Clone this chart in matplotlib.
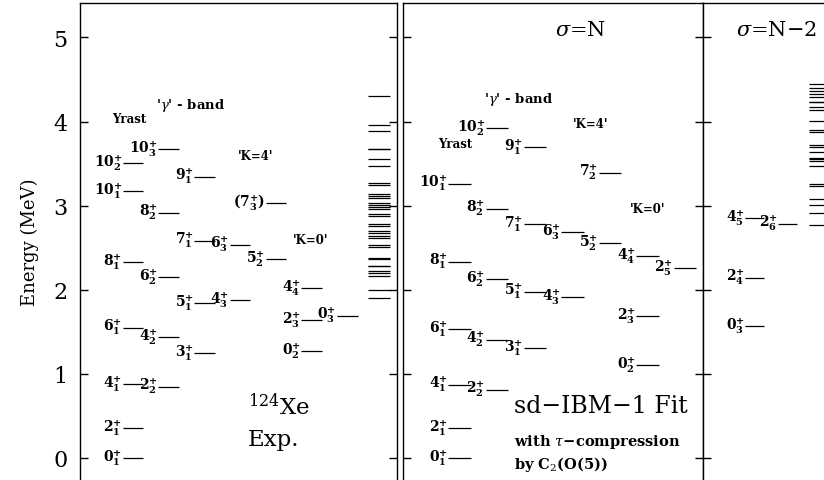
import matplotlib
matplotlib.use('Agg')
import matplotlib.pyplot as plt

plt.rcParams['font.family'] = ['DejaVu Serif', 'DejaVu Sans']
plt.rcParams['mathtext.fontset'] = 'dejavuserif'

# ---- data (MeV) ----
# experiment 124Xe : label, energy, column
exp_labels = ['0_1', '2_1', '4_1', '6_1', '8_1', '10_1', '10_2',
              '2_2', '4_2', '6_2', '8_2', '10_3',
              '3_1', '5_1', '7_1', '9_1',
              '4_3', '6_3', '(7_3)',
              '5_2',
              '0_2', '2_3', '4_4',
              '0_3']
exp_energy = [0.0, 0.354, 0.879, 1.549, 2.331, 3.171, 3.508,
              0.846, 1.437, 2.148, 2.917, 3.674,
              1.248, 1.839, 2.584, 3.345,
              1.875, 2.537, 3.032,
              2.366,
              1.272, 1.637, 2.017,
              1.692]
exp_col = [0, 0, 0, 0, 0, 0, 0,
           1, 1, 1, 1, 1,
           2, 2, 2, 2,
           3, 3, 4,
           4,
           5, 5, 5,
           6]
# other experimental levels (right stack)
exp_other = [4.305, 3.963, 3.884, 3.674, 3.668, 3.555, 3.476, 3.270, 3.246,
             3.139, 3.119, 3.092, 3.032, 3.008, 2.981, 2.961, 2.901, 2.874,
             2.782, 2.759, 2.703, 2.675, 2.643, 2.620, 2.537, 2.513, 2.378,
             2.366, 2.287, 2.280, 2.224, 2.200, 2.168, 1.998, 1.903]

# sd-IBM-1 fit, sigma = N
fit_labels = ['0_1', '2_1', '4_1', '6_1', '8_1', '10_1',
              '2_2', '4_2', '6_2', '8_2', '10_2',
              '3_1', '5_1', '7_1', '9_1',
              '4_3', '6_3',
              '5_2', '7_2',
              '0_2', '2_3', '4_4',
              '2_5']
fit_energy = [0.0, 0.357, 0.872, 1.534, 2.334, 3.262,
              0.812, 1.407, 2.125, 2.965, 3.924,
              1.304, 1.978, 2.779, 3.694,
              1.911, 2.683,
              2.553, 3.392,
              1.106, 1.688, 2.402,
              2.255]
fit_col = [0, 0, 0, 0, 0, 0,
           1, 1, 1, 1, 1,
           2, 2, 2, 2,
           3, 3,
           4, 4,
           5, 5, 5,
           6]

# sigma = N-2
n2_labels = ['0_3', '2_4', '4_5', '2_6']
n2_energy = [1.570, 2.144, 2.854, 2.786]
n2_col = [0, 0, 0, 1]
n2_other = [4.443, 4.396, 4.360, 4.325, 4.289, 4.237, 4.230, 4.170, 4.142,
            4.011, 3.900, 3.873, 3.722, 3.702, 3.635, 3.564, 3.558, 3.535,
            3.468, 3.258, 3.231, 3.080, 3.008, 2.910, 2.774]

yticks = [0, 1, 2, 3, 4, 5]


def tex(lbl):
    paren = lbl.startswith('(')
    j, n = lbl.strip('()').split('_')
    core = r'\mathbf{%s}^{\mathbf{+}}_{\mathbf{%s}}' % (j, n)
    if paren:
        core = r'\mathbf{(}' + core + r'\mathbf{)}'
    return '$' + core + '$'


W, H = 824, 481
ymin, ymax = -0.262, 5.41
fig = plt.figure(figsize=(W / 100, H / 100), dpi=100)


def panel(x0, x1):
    ax = fig.add_axes([x0 / W, 0, (x1 - x0) / W, 477 / H])
    ax.set_xlim(0, x1 - x0)
    ax.set_ylim(ymin, ymax)
    ax.set_xticks([])
    ax.set_yticks(yticks)
    ax.spines['bottom'].set_visible(False)
    for s in ax.spines.values():
        s.set_linewidth(1.0)
    ax.tick_params(axis='y', direction='in', length=6, width=1.0,
                   labelleft=False)
    return ax


def levels(ax, labels, energy, cols, off, step, w):
    for lbl, e, c in zip(labels, energy, cols):
        x0 = off + c * step
        ax.hlines(e, x0, x0 + w, color='k', lw=0.9)
        ax.text(x0 - 0.5, e + 0.02, tex(lbl), ha='right', va='center',
                fontsize=10)


def stack(ax, energy, x0, x1):
    ax.hlines(energy, x0, x1, color='k', lw=0.9)


bold = dict(fontsize=8.5, fontweight='bold', ha='center', va='center')
band = dict(fontsize=9.5, fontweight='bold', ha='center', va='center')

# ---- panel 1 : experiment ----
ax1 = panel(80, 397)
ax1.tick_params(axis='y', left=True, right=True, labelleft=True,
                labelsize=16, pad=9)
ax1.set_ylabel('Energy (MeV)', fontsize=13, labelpad=10)
levels(ax1, exp_labels, exp_energy, exp_col, 42.7, 35.7, 20.6)
stack(ax1, exp_other, 288, 310)
ax1.text(49.5, 4.04, 'Yrast', **bold)
ax1.text(111, 4.20, "'$\\gamma$' - band", **band)
ax1.text(176, 3.60, "'K=4'", **bold)
ax1.text(231, 2.60, "'K=0'", **bold)
ax1.text(168, 0.62, '$^{124}$Xe', fontsize=16.5, ha='left', va='center')
ax1.text(168, 0.22, 'Exp.', fontsize=16.5, ha='left', va='center')

# ---- panel 2 : sigma = N ----
ax2 = panel(403, 703)
ax2.tick_params(axis='y', left=True, right=True)
levels(ax2, fit_labels, fit_energy, fit_col, 45.3, 37.6, 22.5)
ax2.text(52.5, 3.745, 'Yrast', **bold)
ax2.text(115.5, 4.28, "'$\\gamma$' - band", **band)
ax2.text(187.5, 3.98, "'K=4'", **bold)
ax2.text(245, 2.97, "'K=0'", **bold)
ax2.text(178, 5.10, '$\\sigma$=N', fontsize=15, ha='center', va='center')
ax2.text(111, 0.62, 'sd\u2212IBM\u22121 Fit', fontsize=17, ha='left',
         va='center')
ax2.text(111, 0.205, 'with $\\tau$\u2212compression', fontsize=10.5,
         fontweight='bold', ha='left', va='center')
ax2.text(111, -0.06, 'by C$_2$(O(5))', fontsize=10.5, fontweight='bold',
         ha='left', va='center')

# ---- panel 3 : sigma = N-2 ----
ax3 = panel(703, 850)
ax3.spines['right'].set_visible(False)
ax3.tick_params(axis='y', left=True, right=False)
levels(ax3, n2_labels, n2_energy, n2_col, 42, 33, 18.5)
stack(ax3, n2_other, 106, 130)
ax3.text(73, 5.10, '$\\sigma$=N\u22122', fontsize=15, ha='center',
         va='center')

fig.savefig('out.png', dpi=100)
